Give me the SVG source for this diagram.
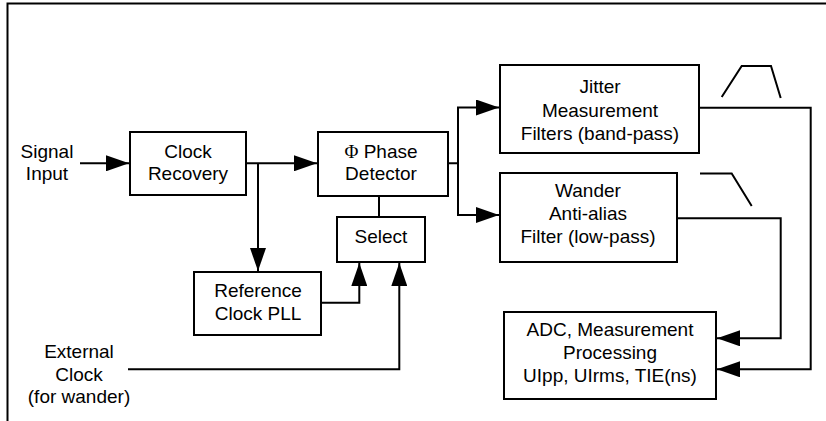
<svg xmlns="http://www.w3.org/2000/svg" width="826" height="421" viewBox="0 0 826 421">
<style>
.box{fill:#fff;stroke:#000;stroke-width:2}
.ln{fill:none;stroke:#000;stroke-width:2}
text{font-family:"Liberation Sans",Arial,sans-serif;font-size:19px;fill:#000;text-anchor:middle}
.sym{font-family:"Liberation Serif","Times New Roman",serif}
</style>
<defs>
<marker id="ah" markerUnits="userSpaceOnUse" markerWidth="24" markerHeight="16" refX="23" refY="8" orient="auto">
<path d="M0,0 L23,8 L0,16 z" fill="#000"/>
</marker>
</defs>
<rect width="826" height="421" fill="#fff"/>
<g id="frame"><path class="ln" d="M7.5,421 V3.5 H826"/></g>
<g id="signal-input"><text x="47" y="158">Signal</text><text x="47" y="180">Input</text></g>
<g id="clock-recovery"><rect class="box" x="130" y="132" width="116" height="63"/><text x="188" y="158">Clock</text><text x="188" y="180">Recovery</text></g>
<g id="phase-detector"><rect class="box" x="318" y="132" width="130" height="64"/><text x="381" y="158"><tspan class="sym">Φ</tspan> Phase</text><text x="381" y="180">Detector</text></g>
<g id="select"><rect class="box" x="337" y="217" width="88" height="45"/><text x="381" y="243">Select</text></g>
<g id="ref-pll"><rect class="box" x="194" y="272" width="127" height="63"/><text x="258" y="297">Reference</text><text x="258" y="320">Clock PLL</text></g>
<g id="external-clock"><text x="79" y="358">External</text><text x="79" y="381">Clock</text><text x="79" y="403">(for wander)</text></g>
<g id="jitter"><rect class="box" x="500" y="65" width="199" height="88"/><text x="600" y="93">Jitter</text><text x="600" y="117">Measurement</text><text x="600" y="140">Filters (band-pass)</text></g>
<g id="wander"><rect class="box" x="500" y="173" width="177" height="89"/><text x="588" y="197">Wander</text><text x="588" y="220">Anti-alias</text><text x="588" y="243">Filter (low-pass)</text></g>
<g id="adc"><rect class="box" x="504" y="312" width="212" height="87"/><text x="610" y="336">ADC, Measurement</text><text x="610" y="359">Processing</text><text x="610" y="382">UIpp, UIrms, TIE(ns)</text></g>
<g id="filter-icons">
<polyline class="ln" points="721.7,97 741.7,66 771,66 780.7,98"/>
<polyline class="ln" points="700,173.5 731.7,173.5 751.7,206"/>
</g>
<g id="connectors">
<path class="ln" d="M80,163.3 H129" marker-end="url(#ah)"/>
<path class="ln" d="M246,163.3 H317" marker-end="url(#ah)"/>
<path class="ln" d="M258,163.3 V271" marker-end="url(#ah)"/>
<path class="ln" d="M379,196 V217"/>
<path class="ln" d="M321,302.7 H359.3 V263" marker-end="url(#ah)"/>
<path class="ln" d="M128,369.3 H399.3 V263" marker-end="url(#ah)"/>
<path class="ln" d="M448,163.3 H458 V107.5 H499" marker-end="url(#ah)"/>
<path class="ln" d="M458,163.3 V215 H499" marker-end="url(#ah)"/>
<path class="ln" d="M699,107.7 H810.7 V369.3 H717" marker-end="url(#ah)"/>
<path class="ln" d="M677,218.3 H780.7 V338.3 H717" marker-end="url(#ah)"/>
</g>
</svg>
